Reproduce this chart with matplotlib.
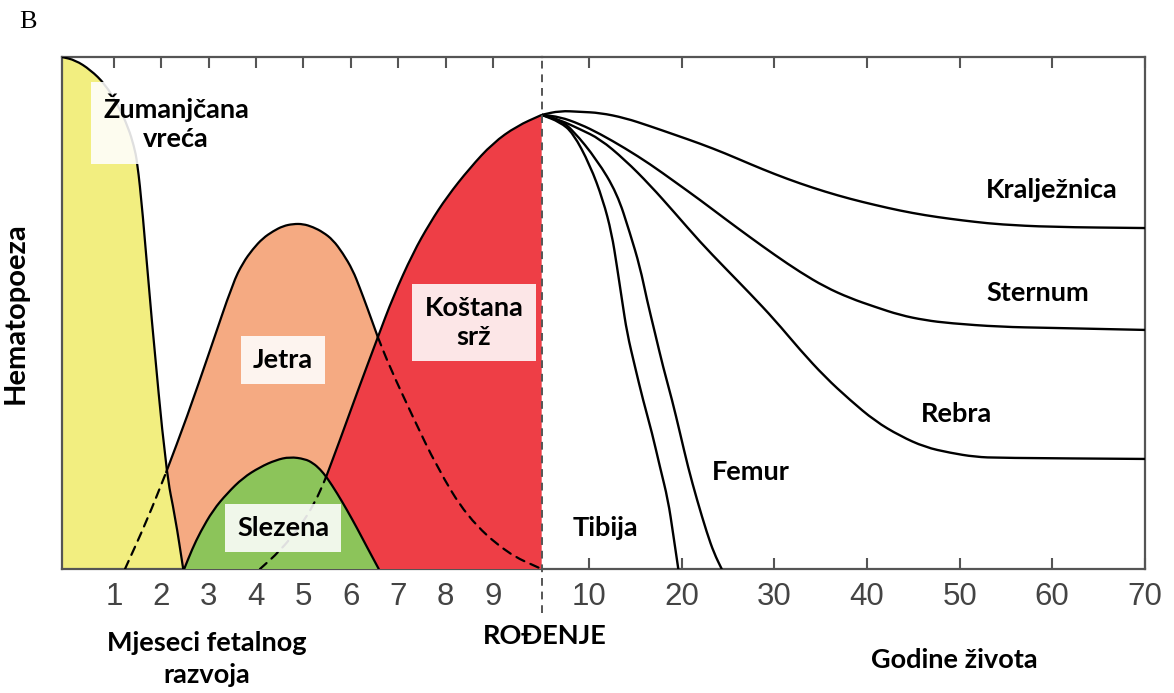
import matplotlib
matplotlib.use("Agg")
import matplotlib.pyplot as plt
from matplotlib.path import Path
from matplotlib.patches import PathPatch

# ---- fetalni period: x = mjeseci, y = relativna hematopoeza (0..1) ----
yolk_m = [-0.1, 0.18, 0.5, 0.81, 1.09, 1.3, 1.42, 1.49, 1.6, 1.78, 2.1, 2.29, 2.46]
yolk_v = [1.0, 0.994, 0.975, 0.947, 0.905, 0.862, 0.826, 0.795, 0.7, 0.5, 0.189, 0.102, 0.0]

liver_m = [1.23, 1.70, 2.10, 2.54, 3.03, 3.51, 3.72, 3.93, 4.14, 4.36, 4.57, 4.78, 4.99,
           5.2, 5.41, 5.62, 5.83, 6.04, 6.19, 6.34, 6.57, 6.82, 7.31, 7.82, 8.45, 9.29, 10.03]
liver_v = [0.0, 0.096, 0.189, 0.297, 0.428, 0.559, 0.598, 0.625, 0.646, 0.66, 0.67, 0.674, 0.674,
           0.668, 0.658, 0.643, 0.617, 0.584, 0.549, 0.512, 0.453, 0.395, 0.297, 0.199, 0.102, 0.031, 0.0]
LIVER_SOLID = (2, 20)   # vidljivi dio krivulje (indeksi)

spleen_m = [2.48, 2.65, 2.82, 3.09, 3.39, 3.72, 4.08, 4.42, 4.71, 5.03, 5.2, 5.35, 5.5,
            5.71, 5.92, 6.13, 6.34, 6.59]
spleen_v = [0.0, 0.039, 0.072, 0.115, 0.148, 0.178, 0.199, 0.213, 0.219, 0.215, 0.207, 0.195, 0.178,
            0.148, 0.115, 0.08, 0.043, 0.0]

marrow_m = [4.08, 4.5, 4.92, 5.24, 5.47, 5.77, 6.13, 6.57, 6.89, 7.31, 7.67, 8.03, 8.51, 9.0, 9.5, 10.03]
marrow_v = [0.0, 0.035, 0.082, 0.129, 0.178, 0.252, 0.344, 0.453, 0.531, 0.617, 0.676, 0.727, 0.783,
            0.832, 0.865, 0.887]
MARROW_SOLID = 4

# ---- nakon rođenja: x = godine ----
spine_y = [4.85, 6.83, 8.99, 11.15, 13.85, 16.55, 19.26, 21.95, 24.66, 27.36, 30.06, 32.76, 35.46,
           38.16, 40.86, 43.56, 46.26, 48.96, 51.66, 54.36, 59.76, 70]
spine_v = [0.887, 0.895, 0.893, 0.891, 0.881, 0.865, 0.848, 0.831, 0.812, 0.791, 0.771, 0.753, 0.737,
           0.723, 0.711, 0.70, 0.691, 0.684, 0.678, 0.673, 0.668, 0.666]

sternum_y = [4.85, 6.83, 8.99, 11.15, 13.85, 16.55, 19.26, 21.95, 24.66, 27.36, 30.06, 32.76, 35.46,
             38.16, 40.86, 43.56, 46.26, 48.96, 54.36, 59.76, 70]
sternum_v = [0.887, 0.883, 0.869, 0.85, 0.822, 0.791, 0.756, 0.721, 0.684, 0.648, 0.613, 0.58, 0.551,
             0.529, 0.512, 0.496, 0.486, 0.48, 0.473, 0.471, 0.467]

ribs_y = [4.85, 6.83, 8.99, 11.15, 13.85, 16.55, 19.26, 21.95, 24.66, 27.36, 30.06, 32.76, 35.46,
          38.16, 40.86, 43.56, 46.26, 48.96, 51.66, 54.36, 70]
ribs_v = [0.887, 0.877, 0.859, 0.84, 0.799, 0.75, 0.695, 0.639, 0.588, 0.538, 0.486, 0.428, 0.375,
          0.33, 0.289, 0.26, 0.238, 0.227, 0.219, 0.217, 0.215]

tibia_y = [4.85, 6.83, 8.23, 10.07, 11.47, 12.41, 12.99, 13.53, 14.07, 14.93, 15.8, 16.77, 17.63,
           18.5, 19.04, 19.61]
tibia_v = [0.887, 0.873, 0.852, 0.789, 0.721, 0.656, 0.59, 0.525, 0.461, 0.395, 0.33, 0.266, 0.199,
           0.135, 0.07, 0.0]

femur_y = [4.85, 6.83, 8.23, 10.83, 12.99, 14.39, 15.47, 16.23, 17.09, 17.96, 18.94, 19.79, 20.66,
           21.63, 22.71, 23.47, 24.3]
femur_v = [0.887, 0.877, 0.857, 0.799, 0.734, 0.656, 0.59, 0.525, 0.461, 0.395, 0.33, 0.266, 0.199,
           0.135, 0.07, 0.031, 0.0]

month_ticks = [1, 2, 3, 4, 5, 6, 7, 8, 9]
year_ticks = [10, 20, 30, 40, 50, 60, 70]
MONTH_LIM = (-0.1, 10.03)
YEAR_LIM = (4.85, 70)

C_YOLK = "#f2ee80"
C_LIVER = "#f5aa82"
C_SPLEEN = "#8cc45a"
C_MARROW = "#ee3e46"
C_AXIS = "#555555"
LBL = dict(family=["Lato", "DejaVu Sans"], fontweight="bold", fontsize=19.5, color="black")
BOX = dict(boxstyle="square,pad=0.45", fc="white", ec="none", alpha=0.88)
DASH = (0, (4, 3))


def curve_path(xs, ys, close=False):
    # glatka krivulja kroz ocitane tocke (kvadratni Bezier preko polovista)
    pts = list(zip(xs, ys))
    verts, codes = [pts[0]], [Path.MOVETO]
    if len(pts) > 2:
        mid = lambda p, q: ((p[0] + q[0]) / 2, (p[1] + q[1]) / 2)
        verts.append(mid(pts[0], pts[1]))
        codes.append(Path.LINETO)
        for i in range(1, len(pts) - 1):
            verts += [pts[i], mid(pts[i], pts[i + 1])]
            codes += [Path.CURVE3, Path.CURVE3]
    verts.append(pts[-1])
    codes.append(Path.LINETO)
    if close:
        verts += [(xs[-1], 0), (xs[0], 0), (xs[0], 0)]
        codes += [Path.LINETO, Path.LINETO, Path.CLOSEPOLY]
    return Path(verts, codes)


def area(ax, xs, ys, color, z):
    ax.add_patch(PathPatch(curve_path(xs, ys, close=True), fc=color, ec="none", zorder=z))


def line(ax, xs, ys, dashed=False, lw=1.6):
    ax.add_patch(PathPatch(curve_path(xs, ys), fill=False, ec="black", lw=lw,
                           ls=DASH if dashed else "-", capstyle="round", zorder=5))


fig = plt.figure(figsize=(11.74, 6.93), dpi=100)
axL = fig.add_axes([0.0528, 0.1789, 0.4086, 0.7388])
axR = fig.add_axes([0.4614, 0.1789, 0.5137, 0.7388])

# povrsine (redoslijed crtanja = sto je ispred)
area(axL, liver_m, liver_v, C_LIVER, 1)
area(axL, yolk_m, yolk_v, C_YOLK, 2)
area(axL, marrow_m, marrow_v, C_MARROW, 3)
area(axL, spleen_m, spleen_v, C_SPLEEN, 4)

line(axL, yolk_m, yolk_v)
a, b = LIVER_SOLID
line(axL, liver_m[a:b + 1], liver_v[a:b + 1])
line(axL, liver_m[:a + 1], liver_v[:a + 1], dashed=True)
line(axL, liver_m[b:], liver_v[b:], dashed=True)
line(axL, marrow_m[MARROW_SOLID:], marrow_v[MARROW_SOLID:])
line(axL, marrow_m[:MARROW_SOLID + 1], marrow_v[:MARROW_SOLID + 1], dashed=True)
line(axL, spleen_m, spleen_v)

for xs, vs in [(spine_y, spine_v), (sternum_y, sternum_v), (ribs_y, ribs_v),
               (tibia_y, tibia_v), (femur_y, femur_v)]:
    line(axR, xs, vs, lw=1.7)

# natpisi
axL.text(2.31, 0.872, "Žumanjčana\nvreća", ha="center", va="center", linespacing=1.25,
         bbox=BOX, zorder=6, **LBL)
axL.text(4.57, 0.408, "Jetra", ha="center", va="center", bbox=BOX, zorder=6, **LBL)
axL.text(4.57, 0.08, "Slezena", ha="center", va="center", bbox=BOX, zorder=6, **LBL)
axL.text(8.6, 0.482, "Koštana\nsrž", ha="center", va="center", linespacing=1.25,
         bbox=BOX, zorder=6, **LBL)

axR.text(59.9, 0.74, "Kralježnica", ha="center", va="center", **LBL)
axR.text(58.4, 0.539, "Sternum", ha="center", va="center", **LBL)
axR.text(49.7, 0.303, "Rebra", ha="center", va="center", **LBL)
axR.text(27.4, 0.189, "Femur", ha="center", va="center", **LBL)
axR.text(11.7, 0.08, "Tibija", ha="center", va="center", **LBL)

# osi
for ax, lim, ticks in [(axL, MONTH_LIM, month_ticks), (axR, YEAR_LIM, year_ticks)]:
    ax.set_xlim(*lim)
    ax.set_ylim(0, 1)
    ax.set_yticks([])
    ax.set_xticks(ticks)
    ax.set_xticklabels([str(t) for t in ticks], family=["Liberation Sans", "DejaVu Sans"],
                       fontsize=22.5, color="#444444")
    ax.tick_params(axis="x", direction="in", top=True, length=8, width=1.5,
                   color=C_AXIS, pad=9)
    for s in ax.spines.values():
        s.set_color(C_AXIS)
        s.set_linewidth(1.6)
    ax.patch.set_alpha(0)
axL.spines["right"].set_visible(False)
axR.spines["left"].set_visible(False)

# granica rodjenja
axR.axvline(YEAR_LIM[0], ymin=-0.086, ymax=1, clip_on=False, color=C_AXIS, ls=DASH, lw=1.4, zorder=6)

fig.text(0.024, 0.968, "B", family=["Liberation Serif", "DejaVu Serif"], fontsize=19,
         ha="center", va="center")
fig.text(0.013, 0.548, "Hematopoeza", rotation=90, ha="center", va="center",
         **{**LBL, "fontsize": 21})
fig.text(0.176, 0.049, "Mjeseci fetalnog\nrazvoja", ha="center", va="center", linespacing=1.38, **LBL)
fig.text(0.464, 0.082, "ROĐENJE", ha="center", va="center", **LBL)
fig.text(0.813, 0.048, "Godine života", ha="center", va="center", **LBL)

fig.savefig("out.png", dpi=100, facecolor="white")
